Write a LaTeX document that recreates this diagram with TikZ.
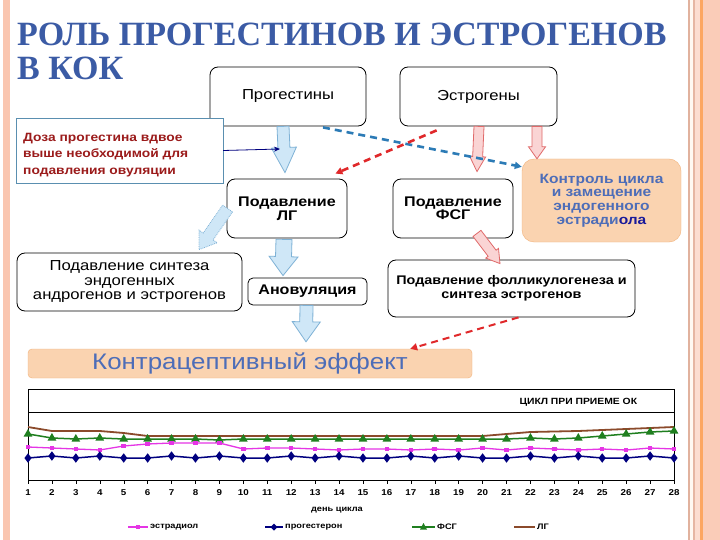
\documentclass[tikz,border=0pt]{standalone}
\usepackage{fontspec}
\setmainfont{Liberation Sans}[FakeStretch=1.15]
\newfontfamily\titlefont{Liberation Serif}
\usepackage{xcolor}
\usetikzlibrary{calc,arrows.meta,plotmarks}

\definecolor{titleblue}{HTML}{3B5BA5}
\definecolor{edgepink}{HTML}{FAC6B0}
\definecolor{arrowblue}{HTML}{CFE7F7}
\definecolor{arrowblueline}{HTML}{7FB2D6}
\definecolor{arrowpink}{HTML}{FAD4D4}
\definecolor{arrowpinkline}{HTML}{E06A6A}
\definecolor{dashblue}{HTML}{2C7BB6}
\definecolor{dashred}{HTML}{E0282A}
\definecolor{peach}{HTML}{FAD3B0}
\definecolor{peachline}{HTML}{F2B27A}
\definecolor{ctrlblue}{HTML}{4D6DB8}
\definecolor{ctrldark}{HTML}{1A1A9A}
\definecolor{doseline}{HTML}{5A8FB0}
\definecolor{dosered}{HTML}{9B1B1B}
\definecolor{estrcol}{HTML}{E535E5}
\definecolor{progcol}{HTML}{00007F}
\definecolor{fshcol}{HTML}{1F7F1F}
\definecolor{lhcol}{HTML}{8B4A2B}

% fat arrow between two named points: [style]{from}{to}{half shaft}{half head}{head length}
\newcommand{\fatarrow}[6][]{%
  \coordinate (fa-b) at ($(#3)!#6!(#2)$);
  \draw[#1] ($(#2)!#4!90:(#3)$) -- ($(fa-b)!#4!-90:(#2)$) -- ($(fa-b)!#5!-90:(#2)$)
    -- (#3) -- ($(fa-b)!#5!90:(#2)$) -- ($(fa-b)!#4!90:(#2)$) -- ($(#2)!#4!-90:(#3)$) -- cycle;}

\tikzset{
  rbox/.style={draw=black, thick, fill=white, rounded corners=8pt, align=center, inner sep=2pt},
  headlbl/.style={font=\fontsize{14.5}{16}\selectfont},
  boxlbl/.style={font=\fontsize{14}{13.5}\selectfont\bfseries},
  bluefat/.style={fill=arrowblue, draw=arrowblueline, line width=0.8pt},
  pinkfat/.style={fill=arrowpink, draw=arrowpinkline, line width=0.8pt},
  dashconn/.style={line width=2.6pt, dash pattern=on 7pt off 5pt, -{Triangle[length=7pt,width=7pt]}},
  daylbl/.style={font=\fontsize{8.5}{9}\selectfont\bfseries, inner sep=0pt},
  legendlbl/.style={font=\fontsize{8}{9}\selectfont\bfseries, anchor=west, inner sep=0pt},
}

\begin{document}
\begin{tikzpicture}[x=1pt,y=-1pt]
\useasboundingbox (0,0) rectangle (720,540);
\fill[white] (0,0) rectangle (720,540);

% page border stripes
\fill[edgepink] (3,0) rectangle (10,540);
\fill[black!10!edgepink] (688,0) rectangle (690,540);
\fill[orange!5] (690,0) rectangle (693,540);
\fill[black!8!edgepink] (693,0) rectangle (695,540);
\fill[edgepink!60] (695,0) rectangle (700,540);
\fill[orange!45!edgepink] (700,0) rectangle (703,540);
\fill[edgepink!90] (703,0) rectangle (720,540);

% title
\node[anchor=base west, inner sep=0pt, text=titleblue, font=\titlefont\bfseries\fontsize{34}{34}\selectfont] (title1) at (17,46) {РОЛЬ ПРОГЕСТИНОВ И ЭСТРОГЕНОВ};
\node[anchor=base west, inner sep=0pt, text=titleblue, font=\titlefont\bfseries\fontsize{34}{34}\selectfont] (title2) at (17,80) {В КОК};

% boxes
\node[rbox, headlbl, minimum width=156pt, minimum height=59pt] (prog) at (288,96.5) {Прогестины};
\node[rbox, headlbl, minimum width=157pt, minimum height=59pt] (estr) at (478.5,96.5) {Эстрогены};
\node[draw=doseline, fill=white, minimum width=207pt, minimum height=65pt] (dose) at (119.5,150.5) {};
\node[anchor=west, align=left, text=dosered, inner sep=0pt, font=\fontsize{12}{16.5}\selectfont\bfseries] (dosetxt) at (23,155) {Доза прогестина вдвое\\выше необходимой для\\подавления овуляции};
\node[rbox, boxlbl, minimum width=120pt, minimum height=59pt] (lh) at (287,208.5) {Подавление\\ЛГ};
\node[rbox, boxlbl, minimum width=120pt, minimum height=59pt] (fsh) at (453,208.5) {Подавление\\ФСГ};
\node[draw=peachline, fill=peach, rounded corners=12pt, minimum width=159pt, minimum height=83pt, align=center, text=ctrlblue, font=\fontsize{13.5}{13.7}\selectfont\bfseries] (ctrl) at (601.5,200.5) {Контроль цикла\\и замещение\\эндогенного\\эстради\textcolor{ctrldark}{ола}};
\node[rbox, boxlbl, font=\fontsize{14.5}{14.5}\selectfont, minimum width=225pt, minimum height=58pt] (synth) at (129.5,282) {Подавление синтеза\\эндогенных\\андрогенов и эстрогенов};
\node[rbox, boxlbl, rounded corners=5pt, minimum width=119pt, minimum height=27pt] (anov) at (307.5,291.5) {Ановуляция};
\node[rbox, font=\fontsize{12.5}{13.5}\selectfont\bfseries, minimum width=247pt, minimum height=57pt] (foll) at (511.5,288.5) {Подавление фолликулогенеза и\\синтеза эстрогенов};
\node[draw=peachline, fill=peach, rounded corners=4pt, minimum width=444pt, minimum height=29pt, text=ctrlblue, font=\fontsize{22.5}{22}\selectfont] (effect) at (250,363.5) {Контрацептивный эффект};

% fat arrows
\coordinate (a1) at ([xshift=-5pt]prog.south);
\coordinate (a2) at ([xshift=-2pt,yshift=6pt]lh.north);
\fatarrow[bluefat]{a1}{a2}{6pt}{12.5pt}{25pt}
\coordinate (b1) at ([xshift=-3pt,yshift=-1pt]lh.south);
\coordinate (b2) at ([xshift=-24.5pt,yshift=2pt]anov.north);
\fatarrow[bluefat]{b1}{b2}{8pt}{14.5pt}{19pt}
\coordinate (c1) at ([xshift=-1pt]anov.south);
\coordinate (c2) at ([xshift=56pt,yshift=7pt]effect.north);
\fatarrow[bluefat]{c1}{c2}{6.5pt}{14pt}{20pt}
\coordinate (d1) at ([xshift=1pt]lh.west);
\coordinate (d2) at ([xshift=69.5pt,yshift=3pt]synth.north);
\fatarrow[bluefat, densely dotted]{d1}{d2}{6pt}{11pt}{16pt}
\coordinate (e1) at ([xshift=0.5pt]estr.south);
\coordinate (e2) at ([xshift=24pt,yshift=7pt]fsh.north);
\fatarrow[pinkfat]{e1}{e2}{5pt}{8pt}{15pt}
\coordinate (f1) at ([xshift=58.5pt]estr.south);
\coordinate (f2) at ([xshift=-64.5pt]ctrl.north);
\fatarrow[pinkfat]{f1}{f2}{5pt}{8.5pt}{12pt}
\coordinate (g1) at ([xshift=24pt,yshift=5pt]fsh.south);
\coordinate (g2) at ([xshift=-11.5pt,yshift=-4pt]foll.north);
\fatarrow[pinkfat]{g1}{g2}{5pt}{8pt}{13pt}

% dashed links
\draw[dashconn, dashblue] ([xshift=35pt,yshift=-1pt]prog.south) -- ([yshift=-8pt]ctrl.north west);
\draw[dashconn, dashred] ([xshift=37pt,yshift=-4pt]estr.south west) -- ([xshift=-12pt,yshift=5pt]lh.north east);
\draw[dashconn, dashred, line width=2pt] ([xshift=7pt]foll.south) -- ([xshift=-62pt]effect.north east);
\coordinate (dosetip) at (280,149);
\draw[progcol, line width=0.8pt, -{Stealth[length=6pt,width=5pt]}] (dose.east) -- (dosetip);

% cycle chart
\begin{scope}[x=23.926pt, y=-1pt, shift={(4.074pt,0pt)}]
\draw[line width=0.8pt] (1,389) rectangle (28,480);
\draw[line width=0.8pt] (1,412) -- (28,412);
\node[font=\fontsize{9}{10}\selectfont\bfseries, inner sep=0pt] (charttitle) at (24,402) {ЦИКЛ ПРИ ПРИЕМЕ ОК};
\foreach \d in {1,...,28} {
  \draw (\d,480) -- (\d,484);
  \node[daylbl] at (\d,493) {\d};
}
\draw[lhcol, line width=1.8pt] plot coordinates {(1,427) (2,431) (3,431) (4,431) (5,433) (6,436) (7,436) (8,436) (9,436) (10,436) (11,436) (12,436) (13,436) (14,436) (15,436) (16,436) (17,436) (18,436) (19,436) (20,436) (21,434) (22,432) (23,431.5) (24,431) (25,430) (26,429) (27,428) (28,427)};
\draw[fshcol, line width=1.5pt, mark=triangle*, mark size=3.5pt] plot coordinates {(1,434) (2,438) (3,439) (4,438) (5,439) (6,439) (7,439) (8,439) (9,440) (10,439) (11,439) (12,439) (13,439) (14,439) (15,439) (16,439) (17,439) (18,439) (19,439) (20,439) (21,439) (22,438) (23,439) (24,438) (25,436) (26,434) (27,432) (28,431)};
\draw[estrcol, line width=1.3pt, mark=square*, mark size=1.6pt] plot coordinates {(1,447) (2,448) (3,449) (4,450) (5,446) (6,444) (7,443) (8,443) (9,443) (10,449) (11,448) (12,448) (13,449) (14,450) (15,449) (16,449) (17,450) (18,449) (19,450) (20,448) (21,450) (22,448) (23,449) (24,450) (25,449) (26,450) (27,448) (28,449)};
\draw[progcol, line width=1.5pt, mark=diamond*, mark size=3.5pt] plot coordinates {(1,458) (2,456) (3,458) (4,456) (5,458) (6,458) (7,456) (8,458) (9,456) (10,458) (11,458) (12,456) (13,458) (14,456) (15,458) (16,458) (17,456) (18,458) (19,456) (20,458) (21,458) (22,456) (23,458) (24,456) (25,458) (26,458) (27,456) (28,458)};
\end{scope}
\node[font=\fontsize{8}{9}\selectfont\bfseries, inner sep=0pt] (daycap) at (337,510) {день цикла};

% legend
\draw[estrcol, line width=1.3pt] (128,527) -- (148,527);
\fill[estrcol] (136.4,525.4) rectangle (139.6,528.6);
\node[legendlbl] (legestr) at (150,527) {эстрадиол};
\draw[progcol, line width=1.5pt] (265,527) -- (283,527);
\fill[progcol] (274,523.5) -- (277.5,527) -- (274,530.5) -- (270.5,527) -- cycle;
\node[legendlbl] (legprog) at (285,527) {прогестерон};
\draw[fshcol, line width=1.5pt] (412,527) -- (435,527);
\fill[fshcol] (423.5,523) -- (427,529.5) -- (420,529.5) -- cycle;
\node[legendlbl] (legfsh) at (437,527) {ФСГ};
\draw[lhcol, line width=1.8pt] (514,527) -- (535,527);
\node[legendlbl] (leglh) at (537,527) {ЛГ};
\end{tikzpicture}
\end{document}
